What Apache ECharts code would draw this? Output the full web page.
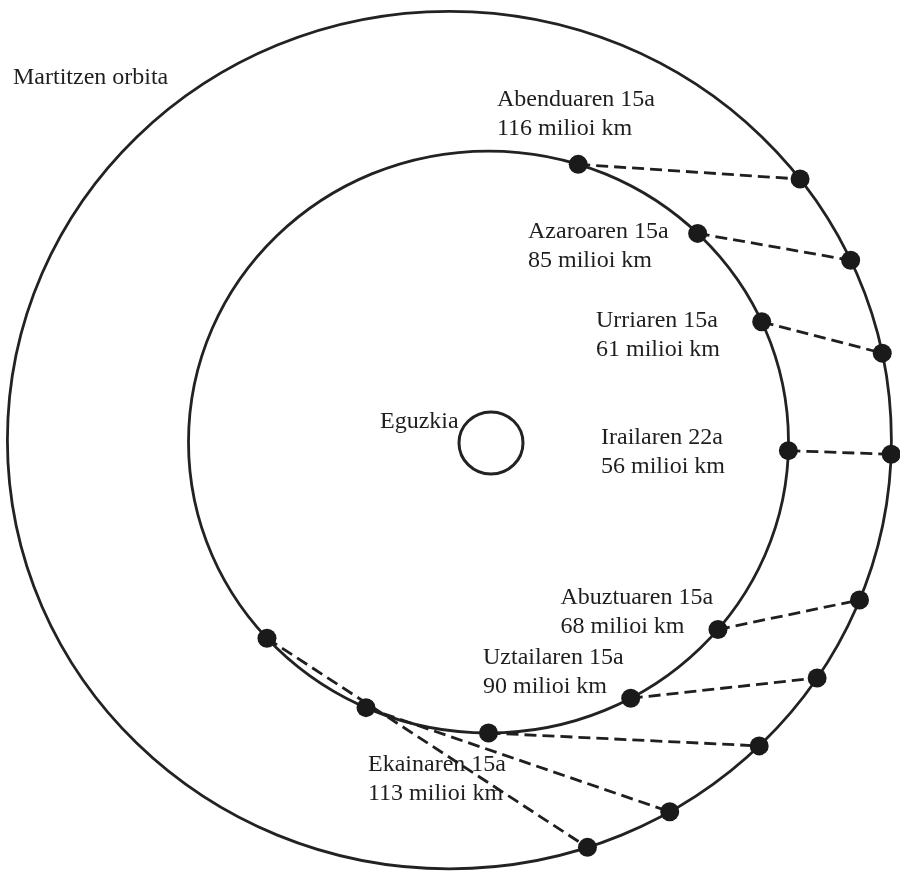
<!DOCTYPE html>
<html>
<head>
<meta charset="utf-8">
<script src="https://cdn.jsdelivr.net/npm/echarts@6/dist/echarts.min.js"></script>
<style>
html,body{margin:0;padding:0;background:#fff;}
#chart{width:900px;height:885px;}
</style>
</head>
<body>
<div id="chart"></div>
<script>
// ---- data (millions of km, Sun at origin) ----
const dateLabels = ['Abenduaren 15a','Azaroaren 15a','Urriaren 15a','Irailaren 22a','Abuztuaren 15a','Uztailaren 15a','Ekainaren 15a','',''];
const distances = [116, 85, 61, 56, 68, 90, 113, null, null];
// position angle (degrees) of Earth on its orbit and of Mars on its orbit
const earthAngles = [72.6, 45.8, 24.4, -1.7, -40.1, -61.7, -90.0, -114.1, -137.6];
const marsAngles  = [37.5, 24.8, 11.7, -1.9, -21.9, -33.7, -45.5, -60.1, -71.8];
// orbits: [centerX, centerY, radius]
const earthOrbit = [-1.25, 0.5, 150];
const marsOrbit  = [-20.8, 1.5, 221];
const sunBody    = [0, 0, 16];
const sunLabel = 'Eguzkia';
const marsOrbitLabel = 'Martitzen orbita';

// ---- layout (label anchors in chart units) ----
const labelAnchors = [[3,169.3],[18.5,101.5],[52.5,55.4],[55,-4.9],[34.75,-87.1],[-4,-118.3],[-61.5,-173.5]];
const sunLabelAnchor = [-55.5, 10.8];
const marsLabelAnchor = [-239, 188.1];

function onOrbit(orbit, deg){
  const a = deg*Math.PI/180;
  return [orbit[0] + orbit[2]*Math.cos(a), orbit[1] + orbit[2]*Math.sin(a)];
}
const earthPts = earthAngles.map(a => onOrbit(earthOrbit, a));
const marsPts = marsAngles.map(a => onOrbit(marsOrbit, a));

const INK = '#222222';
const FONT = '"Liberation Serif", "DejaVu Serif", serif';

const chart = echarts.init(document.getElementById('chart'), null, {renderer:'canvas'});
const textData = labelAnchors.map((p,i) => ({value:p, name: dateLabels[i] + '\n' + distances[i] + ' milioi km'}));
textData.push({value: sunLabelAnchor, name: sunLabel});
textData.push({value: marsLabelAnchor, name: marsOrbitLabel});

chart.setOption({
  animation:false,
  backgroundColor:'#ffffff',
  grid:{left:0,right:0,top:0,bottom:0},
  xAxis:{type:'value',min:-245.5,max:204.5,show:false},
  yAxis:{type:'value',min:-227.84,max:228.35,show:false},
  series:[
    {
      type:'custom',
      renderItem:function(params, api){
        const c = api.coord([api.value(0), api.value(1)]);
        const s = api.size([api.value(2), api.value(2)]);
        return {type:'ellipse', shape:{cx:c[0], cy:c[1], rx:s[0], ry:s[1]},
                style:{fill:null, stroke:INK, lineWidth:api.value(3)}};
      },
      data:[earthOrbit.concat([2.8]), marsOrbit.concat([2.8]), sunBody.concat([3])],
      z:1, silent:true
    },
    {
      type:'lines',
      coordinateSystem:'cartesian2d',
      data: earthPts.map((p,i)=>({coords:[p, marsPts[i]]})),
      lineStyle:{color:'#1f1f1f', width:2.8, type:[12,6], opacity:1},
      z:2, silent:true
    },
    {
      type:'scatter',
      data: earthPts.concat(marsPts),
      symbol:'circle', symbolSize:19,
      itemStyle:{color:'#1a1a1a', opacity:1},
      z:3, silent:true
    },
    {
      type:'scatter',
      data:textData,
      symbolSize:0,
      itemStyle:{opacity:1},
      label:{show:true, position:'right', distance:0, formatter:'{b}',
             fontFamily:FONT, fontSize:24, lineHeight:29, color:'#1e1e1e', align:'left', verticalAlign:'middle'},
      z:4, silent:true
    }
  ]
});
</script>
</body>
</html>
